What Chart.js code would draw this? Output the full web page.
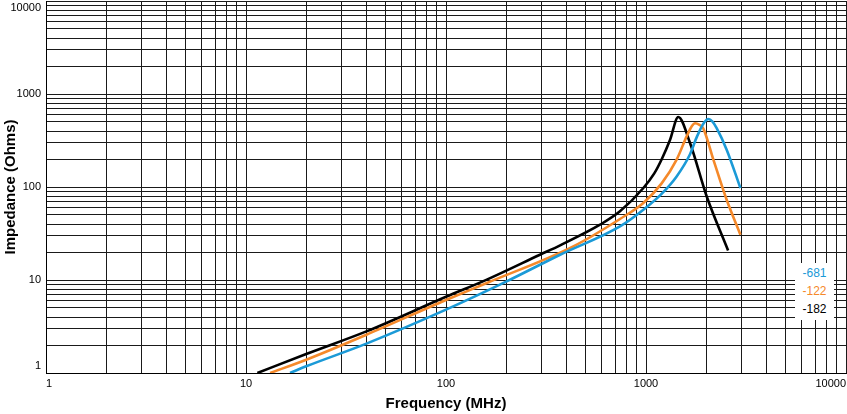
<!DOCTYPE html>
<html>
<head>
<meta charset="utf-8">
<script src="https://cdn.jsdelivr.net/npm/chart.js@4"></script>
<style>
    body { margin: 0; background: #fff; }
    #wrap { position: relative; width: 847px; height: 414px; }
    #legend {
        position: absolute; left: 795px; top: 263px; width: 39px; height: 57px;
        background: #fff; font: 12px "Liberation Sans", Arial, sans-serif;
        text-align: center; padding-top: 1px; box-sizing: border-box;
    }
    #legend div { height: 18px; line-height: 18px; }
</style>
</head>
<body>
<div id="wrap">
    <canvas id="graph"></canvas>
    <div id="legend">
        <div style="color:#1b9ad7">-681</div>
        <div style="color:#f5892a">-122</div>
        <div style="color:#000">-182</div>
    </div>
</div>
<script>
    // Values (MHz, Ohms)
    var freq681 = [16.6, 20, 40, 100, 201, 372, 741, 970, 1200, 1423, 1660, 1800, 1950, 2049, 2150, 2256, 2531, 2965];
    var imp681 = [1, 1.18, 2.07, 4.8, 9.66, 18.7, 37.7, 57, 85, 130, 225, 350, 490, 538, 505, 430, 252, 97.5];

    var freq122 = [13.2, 20, 40, 100, 160, 433, 741, 970, 1200, 1423, 1597, 1700, 1758, 1850, 1935, 2172, 2531, 2965];
    var imp122 = [1, 1.39, 2.58, 6.1, 9.29, 23.0, 45.3, 67.3, 110, 197, 350, 455, 485, 465, 425, 197, 73, 30.7];

    var freq182 = [11.4, 20, 40, 100, 160, 295, 372, 589, 741, 970, 1100, 1200, 1318, 1450, 1660, 2012, 2573];
    var imp182 = [1, 1.6, 2.8, 6.6, 10.1, 18.7, 23.6, 39.3, 54.7, 97.5, 140, 200, 320, 566, 297, 79, 20.8];

    var xLabels = [1, 10, 100, 1000, 10000];
    var yLabels = [1, 10, 100, 1000, 10000];

    // grid lines at 1..9 of every decade
    function gridValues(labels) {
        var out = [];
        for (let d = 0; d < labels.length - 1; d++) {
            for (let m = 1; m < 10; m++) {
                out.push({ value: m * labels[d] });
            }
        }
        out.push({ value: labels[labels.length - 1] });
        return out;
    }

    function points(xs, ys) {
        return xs.map((x, i) => ({ x: x, y: ys[i] }));
    }

    var font = "'Liberation Sans', Arial, sans-serif";
    var gridColor = '#1a1a1a';

    new Chart(document.getElementById('graph'), {
        type: 'line',
        data: {
            datasets: [
                {
                    label: '-681',
                    borderColor: '#1b9ad7',
                    data: points(freq681, imp681)
                },
                {
                    label: '-122',
                    borderColor: '#f5892a',
                    data: points(freq122, imp122)
                },
                {
                    label: '-182',
                    borderColor: '#000000',
                    data: points(freq182, imp182)
                }
            ]
        },
        options: {
            responsive: true,
            maintainAspectRatio: false,
            animation: false,
            layout: { padding: { top: 1, right: 1, left: 0, bottom: 0 } },
            elements: {
                point: { radius: 0 },
                line: { borderWidth: 2.6, cubicInterpolationMode: 'monotone', fill: false }
            },
            plugins: {
                legend: { display: false },
                tooltip: { enabled: false }
            },
            scales: {
                x: {
                    type: 'logarithmic',
                    min: 1,
                    max: 10000,
                    afterBuildTicks: (scale) => { scale.ticks = gridValues(xLabels); },
                    afterFit: (scale) => {
                        scale.height = 41;
                        scale.paddingLeft = 0;
                        scale.paddingRight = 0;
                    },
                    grid: { color: gridColor, lineWidth: 1, drawTicks: false },
                    border: { display: true, color: '#000', width: 1 },
                    ticks: {
                        autoSkip: false,
                        maxRotation: 0,
                        align: 'inner',
                        padding: 4,
                        color: '#000',
                        font: { family: font, size: 11 },
                        callback: function (value) {
                            return xLabels.includes(value) ? String(value) : '';
                        }
                    },
                    title: {
                        display: true,
                        text: 'Frequency (MHz)',
                        color: '#000',
                        padding: { top: 0, bottom: 1 },
                        font: { family: font, size: 15, weight: 'bold' }
                    }
                },
                y: {
                    type: 'logarithmic',
                    min: 1,
                    max: 10000,
                    afterBuildTicks: (scale) => { scale.ticks = gridValues(yLabels); },
                    afterFit: (scale) => {
                        scale.width = 46;
                        scale.paddingTop = 0;
                        scale.paddingBottom = 0;
                    },
                    grid: { color: gridColor, lineWidth: 1, drawTicks: false },
                    border: { display: true, color: '#000', width: 1 },
                    ticks: {
                        autoSkip: false,
                        padding: 5,
                        color: '#000',
                        font: { family: font, size: 11 },
                        callback: function (value) {
                            if (!yLabels.includes(value)) return '';
                            // keep the end labels inside the picture
                            if (value === yLabels[yLabels.length - 1]) return ['', String(value)];
                            if (value === yLabels[0]) return [String(value), ''];
                            return String(value);
                        }
                    },
                    title: {
                        display: true,
                        text: 'Impedance (Ohms)',
                        color: '#000',
                        padding: { top: 1.5, bottom: 0 },
                        font: { family: font, size: 15, weight: 'bold' }
                    }
                }
            }
        }
    });
</script>
</body>
</html>
